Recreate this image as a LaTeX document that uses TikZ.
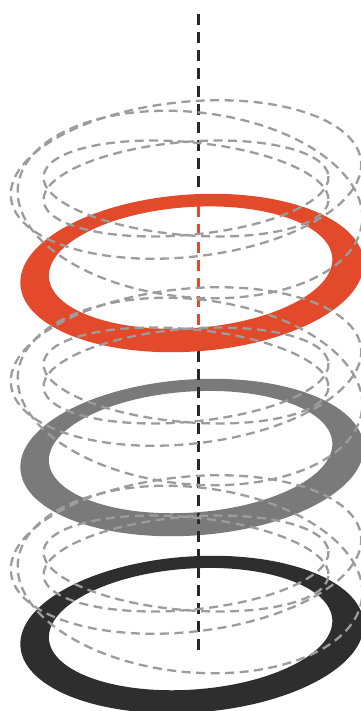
\documentclass[tikz,border=0pt]{standalone}
\definecolor{ringred}{RGB}{227,74,44}
\definecolor{ringgray}{RGB}{122,122,122}
\definecolor{ringblack}{RGB}{46,46,46}
\definecolor{ghost}{RGB}{156,156,156}
\definecolor{axisblack}{RGB}{40,40,40}
\usepackage{tikz}

\begin{document}
\begin{tikzpicture}[x=1pt,y=-1pt,
    ghostline/.style={ghost,line width=2.3pt,dash pattern=on 9pt off 5.5pt},
    axisline/.style={line width=3pt,dash pattern=on 11pt off 7pt}]
  \useasboundingbox (0,0) rectangle (360,711);
  % lower two rings, the axis runs over them
  \foreach \c/\y in {ringgray/457.5,ringblack/634.5}
    \fill[\c,even odd rule,rotate around={4:(192,\y)}] (192,\y) ellipse [x radius=172,y radius=78] (191,\y-5.5) ellipse [x radius=142,y radius=60.5];
  \coordinate (axtop) at (198,14);
  \coordinate (redtop) at (198,195);
  \coordinate (redin) at (198,206);
  \coordinate (redout) at (198,328);
  \coordinate (redbot) at (198,351);
  \coordinate (axbot) at (198,655);
  \draw[axisline,axisblack] (axtop) -- (redtop);
  \draw[axisline,axisblack] (redbot) -- (axbot);
  % red ring on top, with its own bit of axis
  \fill[ringred,even odd rule,rotate around={4:(192,273)}] (192,273) ellipse [x radius=172,y radius=78.5] (191,267.5) ellipse [x radius=142,y radius=60.5];
  \draw[axisline,ringred] (redin) -- (redout);
  % dashed copies, same set for every ring
  \foreach \s in {0,187,375}
    \foreach \cx/\cy/\rx/\ry/\r in {186/179.5/176/77.5/6,190/204.5/173/92.5/-6,186/188.5/143/46.5/5,186/188.5/143/46.5/-5}
      \draw[ghostline,rotate around={\r:(\cx,\cy+\s)}] (\cx,\cy+\s) ellipse [x radius=\rx,y radius=\ry];
\end{tikzpicture}
\end{document}
